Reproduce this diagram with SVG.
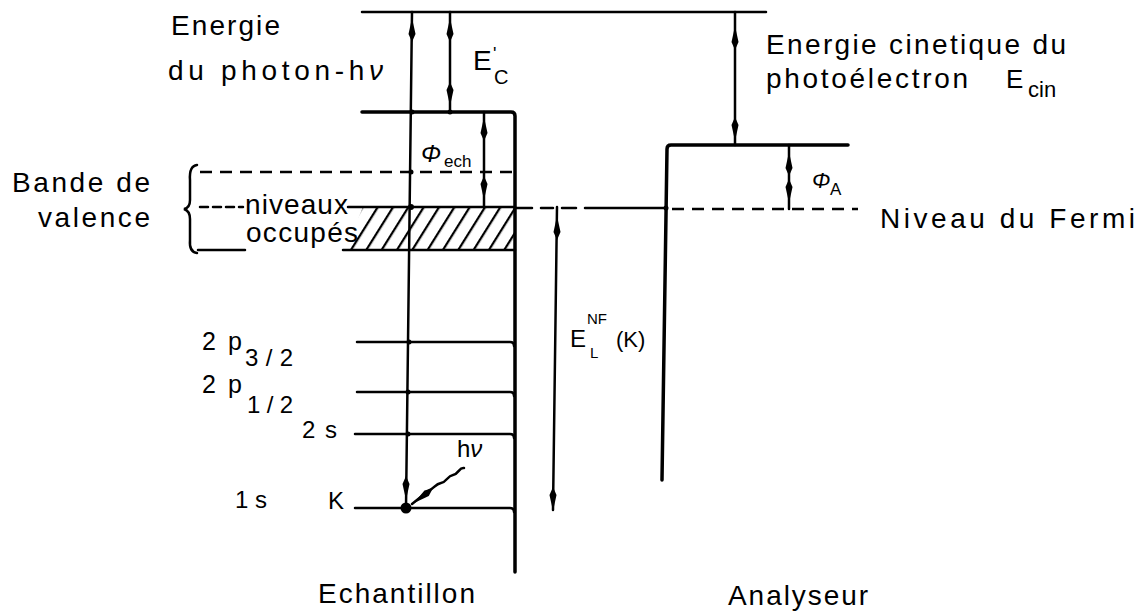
<svg xmlns="http://www.w3.org/2000/svg" width="1147" height="612" viewBox="0 0 1147 612">
<style>
.ln{stroke:#000;stroke-width:2.5;fill:none;stroke-linecap:round}
.wall{stroke:#000;stroke-width:3.5;fill:none;stroke-linejoin:round;stroke-linecap:round}
.dash{stroke:#000;stroke-width:2.5;fill:none;stroke-dasharray:12 8}
.t{font-family:"Liberation Sans",Arial,sans-serif;font-size:28px;fill:#000}
.s{font-family:"Liberation Sans",Arial,sans-serif;fill:#000}
.g{font-family:"Liberation Sans",Arial,sans-serif;font-style:italic;fill:#000}
</style>
<defs>
<path id="au" d="M0,0 L3.5,16 L0,24 L-3.5,16 Z" fill="#000"/>
<pattern id="hatch" patternUnits="userSpaceOnUse" width="13" height="13" patternTransform="rotate(32)">
<line x1="0" y1="0" x2="0" y2="13" stroke="#000" stroke-width="4.5"/>
</pattern>
</defs>

<g id="sample">
<line class="ln" x1="362" y1="12" x2="766" y2="12"/>
<path class="wall" d="M362 112 L511 112 Q515 112 515 116 L515 572"/>
<path d="M363 207 L515 207 L515 250 L345 250 Z" fill="url(#hatch)"/>
<line class="ln" x1="343" y1="250" x2="515" y2="250"/>
<line class="ln" x1="348" y1="207" x2="515" y2="207"/>
<path class="ln" d="M357 342 L510 342 Q514 342 514 346 M357 392 L510 392 Q514 392 514 396 M355 434 L510 434 Q514 434 514 438 M355 508 L510 508 Q514 508 514 512"/>
<line class="dash" x1="200" y1="172" x2="515" y2="172"/>
<line class="ln" x1="198" y1="250" x2="245" y2="250"/>
<path class="ln" d="M197 165 Q189 166 190 180 L190 200 Q190 208 184 209 Q190 211 190 219 L190 240 Q189 252 197 253" stroke-width="3"/>
<line class="ln" x1="200" y1="207" x2="243" y2="207" stroke-dasharray="8 5"/>
</g>

<g id="analyzer">
<path class="wall" d="M848 145 L671 145 Q667 145 667 149 L662 480"/>
<path class="ln" d="M515 208 L532 208 M541 208 L553 208 M562 208 L576 208 M585 208 L665 208"/>
<line class="dash" x1="672" y1="209" x2="858" y2="209"/>
<circle cx="666" cy="208" r="2.5"/>
</g>

<g id="connectors">
<line class="ln" x1="412" y1="12" x2="406" y2="508"/>
<use href="#au" x="412" y="18"/>
<use href="#au" transform="translate(406,500) rotate(180)"/>
<line class="ln" x1="450" y1="12" x2="450" y2="112"/>
<use href="#au" x="450" y="18"/>
<use href="#au" transform="translate(450,106) rotate(180)"/>
<line class="ln" x1="484" y1="112" x2="484" y2="207"/>
<use href="#au" x="484" y="117"/>
<use href="#au" transform="translate(484,200) rotate(180)"/>
<line class="ln" x1="735" y1="12" x2="735" y2="145"/>
<use href="#au" x="735" y="26"/>
<use href="#au" transform="translate(735,141) rotate(180)"/>
<line class="ln" x1="789" y1="145" x2="789" y2="209"/>
<use href="#au" x="789" y="152"/>
<use href="#au" transform="translate(789,203) rotate(180)"/>
<line class="ln" x1="557" y1="207" x2="553" y2="510"/>
<use href="#au" x="557" y="216"/>
<use href="#au" transform="translate(553,511) rotate(180)"/>
<path class="ln" d="M464 468 C459 467 459 474 453 475 C447 476 447 482 441 483 C435 484 434 489 428 491 L412 504"/>
<use href="#au" transform="translate(414,503) rotate(232)"/>
<circle cx="406" cy="508" r="5.5"/>
<circle cx="412" cy="112" r="2.5"/>
<circle cx="450" cy="112" r="2.5"/>
<circle cx="411" cy="172" r="2.5"/>
<circle cx="411" cy="207" r="3"/>
<circle cx="409" cy="342" r="2.5"/>
<circle cx="408" cy="392" r="2.5"/>
<circle cx="408" cy="434" r="2.5"/>
</g>

<g id="labels">
<text class="t" x="171" y="35" textLength="109" lengthAdjust="spacing">Energie</text>
<text class="t" x="168" y="80" textLength="215" lengthAdjust="spacing">du photon-h<tspan font-style="italic">ν</tspan></text>
<text class="s" x="473" y="70" font-size="28">E</text>
<text class="s" x="493" y="60" font-size="18">'</text>
<text class="s" x="494" y="84" font-size="20">C</text>
<text class="g" x="421" y="162" font-size="24">Φ</text>
<text class="s" x="444" y="167" font-size="17">ech</text>
<text class="t" x="12" y="192" textLength="138" lengthAdjust="spacing">Bande de</text>
<text class="t" x="38" y="227" textLength="112" lengthAdjust="spacing">valence</text>
<text class="t" x="245" y="214" font-size="26" textLength="103" lengthAdjust="spacing">niveaux</text>
<text class="t" x="246" y="242" font-size="26" textLength="112" lengthAdjust="spacing">occupés</text>
<text class="t" x="766" y="54" textLength="300" lengthAdjust="spacing">Energie cinetique du</text>
<text class="t" x="766" y="88" textLength="202" lengthAdjust="spacing">photoélectron</text>
<text class="s" x="1006" y="88" font-size="26">E</text>
<text class="s" x="1028" y="97" font-size="22">cin</text>
<text class="g" x="812" y="188" font-size="22">Φ</text>
<text class="s" x="830" y="195" font-size="17">A</text>
<text class="t" x="880" y="228" textLength="255" lengthAdjust="spacing">Niveau du Fermi</text>
<text class="s" x="202" y="350" font-size="25" textLength="40" lengthAdjust="spacing">2 p</text>
<text class="s" x="245" y="366" font-size="24" textLength="48" lengthAdjust="spacing">3/2</text>
<text class="s" x="202" y="393" font-size="25" textLength="40" lengthAdjust="spacing">2 p</text>
<text class="s" x="247" y="413" font-size="24" textLength="46" lengthAdjust="spacing">1/2</text>
<text class="s" x="302" y="438" font-size="24" textLength="35" lengthAdjust="spacing">2 s</text>
<text class="s" x="235" y="508" font-size="24" textLength="32" lengthAdjust="spacing">1 s</text>
<text class="s" x="328" y="509" font-size="24">K</text>
<text class="s" x="457" y="457" font-size="24">h<tspan font-style="italic">ν</tspan></text>
<text class="s" x="570" y="347" font-size="24">E</text>
<text class="s" x="587" y="324" font-size="15">NF</text>
<text class="s" x="590" y="358" font-size="15">L</text>
<text class="s" x="616" y="347" font-size="22">(K)</text>
<text class="t" x="318" y="603" textLength="157" lengthAdjust="spacing">Echantillon</text>
<text class="t" x="728" y="605" textLength="140" lengthAdjust="spacing">Analyseur</text>
</g>
</svg>
